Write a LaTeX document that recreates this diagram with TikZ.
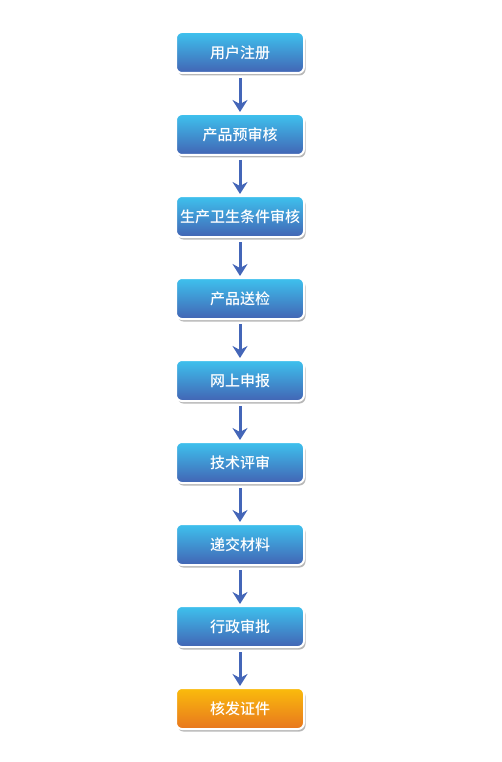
\documentclass[tikz,border=0pt]{standalone}
\usepackage{fontspec}
\newfontfamily\cjk{Noto Sans CJK SC Medium}
\usetikzlibrary{positioning,shadows,arrows.meta}
\definecolor{boxTop}{HTML}{3EC2EE}
\definecolor{boxBottom}{HTML}{4264B4}
\definecolor{endTop}{HTML}{FABC0C}
\definecolor{endBottom}{HTML}{E8761E}
\definecolor{flowLine}{HTML}{4466B8}
\tikzset{
  step node/.style={rectangle, rounded corners=6pt, draw=white, line width=2pt,
    top color=boxTop, bottom color=boxBottom, minimum width=128pt, minimum height=41pt,
    text=white, font=\cjk\fontsize{15pt}{17pt}\selectfont,
    drop shadow={shadow xshift=1.5pt, shadow yshift=-2.5pt, opacity=.4, fill=black!70}},
  end node/.style={step node, top color=endTop, bottom color=endBottom},
  flowArrow/.style={-{Stealth[length=12pt, width=15pt, inset=4pt]}, draw=flowLine, line width=3pt}
}
\begin{document}
\begin{tikzpicture}[x=1pt, y=1pt, node distance=39pt]
  \useasboundingbox (0,0) rectangle (501,-762);
  \node [step node] (s1) at (240,-52.5) {用户注册};
  \node [step node, below=of s1] (s2) {产品预审核};
  \node [step node, below=of s2] (s3) {生产卫生条件审核};
  \node [step node, below=of s3] (s4) {产品送检};
  \node [step node, below=of s4] (s5) {网上申报};
  \node [step node, below=of s5] (s6) {技术评审};
  \node [step node, below=of s6] (s7) {递交材料};
  \node [step node, below=of s7] (s8) {行政审批};
  \node [end node, below=of s8] (s9) {核发证件};
  \foreach \i [evaluate=\i as \j using int(\i+1)] in {1,...,8}
    \draw [flowArrow] (s\i.south) ++(0,-4) -- ([yshift=1pt]s\j.north);
\end{tikzpicture}
\end{document}
